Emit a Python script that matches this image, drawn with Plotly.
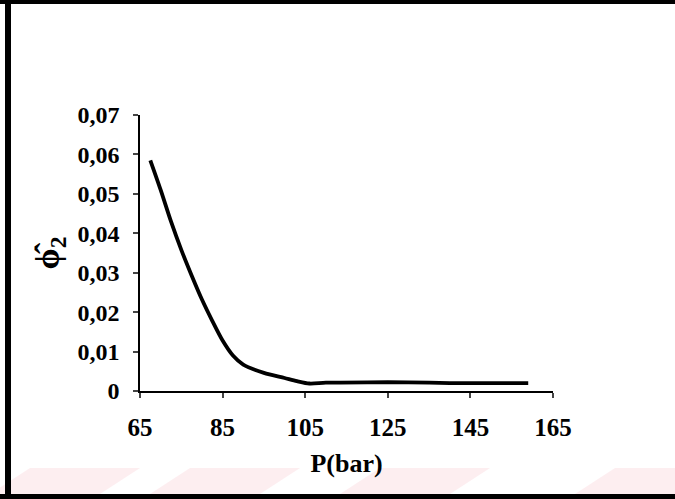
import plotly.graph_objects as go

# Data
pressure = [67.5, 70.0, 72.5, 75.0, 77.5, 80.0, 82.5, 85.0, 87.5, 90.0, 95.0, 100.0, 103.0, 106.0, 110.0, 120.0, 130.0, 140.0, 150.0, 159.0]
phi2 = [0.0585, 0.0510, 0.0430, 0.0358, 0.0293, 0.0232, 0.0178, 0.0128, 0.0090, 0.0067, 0.0046, 0.0033, 0.0025, 0.0019, 0.0021, 0.0022, 0.0022, 0.0020, 0.0020, 0.0020]
x_ticks = [65, 85, 105, 125, 145, 165]
y_ticks = [0, 0.01, 0.02, 0.03, 0.04, 0.05, 0.06, 0.07]
y_ticklabels = ["0", "0,01", "0,02", "0,03", "0,04", "0,05", "0,06", "0,07"]

W, H = 675, 499
L, R, T, B = 140, 122, 115, 108
pw, ph = W - L - R, H - T - B

def px(x):
    return (x - L) / pw

def py(y):
    return 1 - (y - T) / ph

fig = go.Figure()
fig.add_trace(go.Scatter(
    x=pressure, y=phi2, mode="lines",
    line=dict(color="black", width=3.8, shape="spline", smoothing=0.8),
    showlegend=False, hoverinfo="skip",
))

font = "Liberation Serif, Times New Roman, serif"
shapes = []
# faint pink watermark shapes near the bottom
for x0 in [-10, 150, 340, 575]:
    shapes.append(dict(
        type="path", xref="paper", yref="paper",
        path=f"M {px(x0)} {py(494)} L {px(x0+110)} {py(494)} L {px(x0+150)} {py(468)} L {px(x0+40)} {py(468)} Z",
        fillcolor="rgba(250,200,205,0.3)", line=dict(width=0), layer="below",
    ))
# black frame
shapes.append(dict(type="rect", xref="paper", yref="paper", x0=px(0), x1=px(W), y0=py(0), y1=py(4),
                   fillcolor="black", line=dict(width=0)))
shapes.append(dict(type="rect", xref="paper", yref="paper", x0=px(0), x1=px(W), y0=py(494), y1=py(H),
                   fillcolor="black", line=dict(width=0)))
shapes.append(dict(type="rect", xref="paper", yref="paper", x0=px(5), x1=px(11), y0=py(0), y1=py(H),
                   fillcolor="black", line=dict(width=0)))

fig.update_layout(
    width=W, height=H,
    margin=dict(l=L, r=R, t=T, b=B),
    paper_bgcolor="white", plot_bgcolor="white",
    font=dict(family=font, color="black", size=24),
    shapes=shapes,
    xaxis=dict(
        range=[65, 165], tickvals=x_ticks, ticks="outside", ticklen=5, tickwidth=1.5,
        showline=True, linecolor="black", linewidth=1.5, showgrid=False, zeroline=False,
        tickfont=dict(family=font, size=25, weight="bold"), ticklabelstandoff=8,
        title=dict(text="<b>P(bar)</b>", font=dict(family=font, size=26), standoff=14),
    ),
    yaxis=dict(
        range=[0, 0.07], tickvals=y_ticks, ticktext=y_ticklabels, ticks="outside", ticklen=5, tickwidth=1.5,
        showline=True, linecolor="black", linewidth=1.5, showgrid=False, zeroline=False,
        tickfont=dict(family=font, size=24, weight="bold"), ticklabelstandoff=9,
        title=dict(text="<b>ϕ\u0302<sub>2</sub></b>", font=dict(family=font, size=34), standoff=8),
    ),
)

fig.write_html("out.html")
